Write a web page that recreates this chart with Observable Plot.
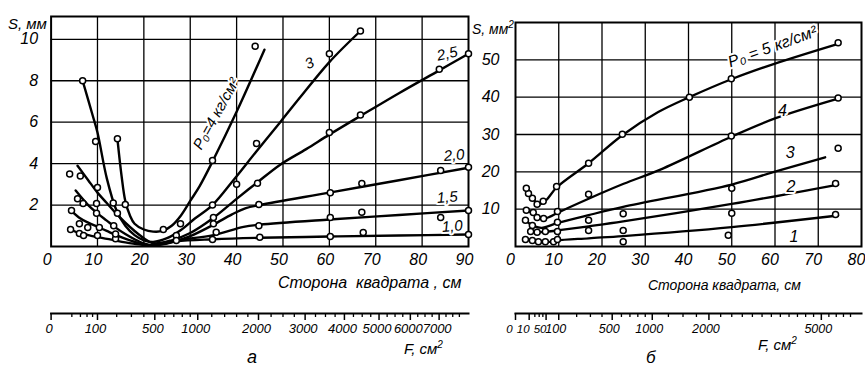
<!DOCTYPE html>
<html><head><meta charset="utf-8">
<script src="https://cdn.jsdelivr.net/npm/d3@7"></script>
<script src="https://cdn.jsdelivr.net/npm/@observablehq/plot@0.6"></script>
<style>
body{margin:0;background:#fff;}
#wrap{position:relative;width:865px;height:368px;overflow:hidden;background:#fff;
  font-family:"Liberation Sans",Arial,sans-serif;font-style:italic;color:#000;}
#wrap svg{position:absolute;overflow:visible;}
#wrap svg text{font-style:italic;}
.t{position:absolute;white-space:nowrap;line-height:1;font-style:italic;}
</style></head><body><div id="wrap"></div>
<script>
// ---------- Panel а : S (mm) vs side of square (cm) ----------
const ticksA_x = [0,10,20,30,40,50,60,70,80,90];
const ticksA_y = [2,4,6,8,10];
const seriesA = ["4","3","2,5","2,0","1,5","1,0"];

const sideA_p40 = [14.3,15.2,16,17,18,20,22,24,26,28,30,32,34.8,40,46];
const sA_p40    = [5.2,3.4,2.2,1.5,1.1,0.82,0.72,0.75,1.0,1.5,2.2,2.9,4.1,6.5,9.5];
const sideA_p30 = [6.8,9,10,12,14,16,18,20,22,25,28,31,34.8,39.3,44.3,49.4,53.7,60,66.7];
const sA_p30    = [8.0,6.3,5.5,3.3,1.8,1.0,0.55,0.3,0.22,0.4,0.8,1.35,2.0,3.2,4.6,6.0,7.2,8.9,10.4];
const sideA_p25 = [5.7,8,10,12,14,16,18,20,22,26,30,34.8,40,44.5,49.4,55,60,66.7,75,83.7,90];
const sA_p25    = [3.9,3.2,2.6,2.1,1.6,1.15,0.75,0.4,0.15,0.3,0.65,1.35,2.3,3.1,3.95,4.7,5.4,6.3,7.4,8.5,9.3];
const sideA_p20 = [5.3,8,10,12,14,16,18,20,22,26,30,35,39,42,45,60,75,90];
const sA_p20    = [2.7,2.0,1.6,1.25,0.9,0.6,0.35,0.15,0.05,0.2,0.5,1.05,1.55,1.85,2.0,2.6,3.2,3.8];
const sideA_p15 = [4.0,6,8,10,12,14,17,20,22,27,35,41.5,45,60,75,90];
const sA_p15    = [1.8,1.4,1.15,0.95,0.75,0.55,0.3,0.1,0.05,0.3,0.55,0.95,1.05,1.3,1.52,1.74];
const sideA_p10 = [4.2,6,8,10,13,16,19,22,27,35,45,60,75,90];
const sA_p10    = [0.82,0.65,0.55,0.45,0.33,0.2,0.1,0.05,0.25,0.35,0.42,0.48,0.53,0.58];

// measured points (circles)
const obsA_side = [6.8,9.6,14.3,44.0,34.8,66.7,60,44.3,40,44.5,60,66.7,83.7,90,34.8,35,35,35.6,34.8,44.8,44.8,45,60.2,60.2,60.2,67,67,67.3,84,90,84,90,90,24.2,27.9,27,27,4.0,6.3,10,5.7,6.9,9.8,13.4,16,4.4,6.1,7.9,9.8,10.4,13.5,14.3,4.2,6.1,7,10,13.9,13.9];
const obsA_s    = [8.0,5.07,5.2,9.66,4.15,10.4,9.3,4.97,3.0,3.05,5.5,6.35,8.55,9.3,2.0,1.4,1.1,0.69,0.34,2.03,1.0,0.45,2.6,1.4,0.48,3.04,1.65,0.67,3.67,3.82,1.4,1.74,0.58,0.82,1.1,0.53,0.29,3.5,3.4,2.85,2.3,2.07,2.07,2.1,2.03,1.74,1.1,0.92,1.6,0.92,1.0,1.6,0.82,0.63,0.53,0.53,0.38,0.6];

const labA_text = ["P₀=4 кг/см²","3","2,5","2,0","1,5","1,0"];
const labA_side = [35.6,55.7,85.4,86.9,85.4,86.5];
const labA_s    = [6.4,8.84,9.3,4.4,2.37,0.97];
const labA_rot  = [-61,-25,-12,-5,-5,-5];

const ticksA_F = [0,100,500,1000,2000,3000,4000,5000,6000,7000];
const minorA_F = [20,40,60,80,200,300,400,600,700,800,900,1200,1400,1600,1800,2250,2500,2750,3250,3500,3750,4250,4500,4750,5250,5500,5750,6250,6500,6750,7250,7500,7750];

// ---------- Panel б : S (mm²) vs side of square (cm) ----------
const ticksB_x = [0,10,20,30,40,50,60,70,80];
const ticksB_y = [10,20,30,40,50];
const seriesB = ["5","4","3","2","1"];
const sideB_p5 = [2.5,3.9,5.5,7,9.5,16.9,24.7,33,40.2,49.9,60,74.6];
const sB_p5    = [15.6,12.9,11.3,12.3,15.8,22.3,29.8,36,40,44.8,49,54.3];
const sideB_p4 = [2.5,4.5,6.5,8,9.7,16.9,25,33.5,49.9,60,74.6];
const sB_p4    = [9.7,8.6,7.5,8.0,9.0,12.8,16.8,20.6,29.4,34.3,39.6];
const sideB_p3 = [2.3,4,6,9.7,16.9,24.9,50,59.6,71.6];
const sB_p3    = [7.0,5.6,5.0,6.3,8.4,10.6,16.6,19.9,23.9];
const sideB_p2 = [3.5,5,6.9,9.7,16.9,24.9,50,74.6];
const sB_p2    = [4.0,3.8,3.9,4.3,5.4,6.7,11.4,16.6];
const sideB_p1 = [2.3,5.3,8.8,9.7,16.9,24.9,50,74.6];
const sB_p1    = [1.9,1.4,1.3,1.6,2.2,2.8,5.2,8.3];

const obsB_side = [74.6,49.9,40.2,24.7,16.9,9.5,6.4,5.0,3.9,3.0,2.5,2.5,4.1,5.0,6.5,9.7,2.3,3.9,9.7,3.5,5,6.9,9.7,2.3,3.9,5.3,6.9,8.8,9.7,16.9,16.9,16.9,24.9,24.9,24.9,50,50,49.2,74,74,74.6,49.9,74.6];
const obsB_s    = [54.6,44.9,40,30.1,22.3,16.1,12.1,11.3,12.9,14.2,15.6,9.7,9.1,7.8,7.5,9.4,7.0,5.6,6.5,4.0,3.8,4.0,4.0,1.9,1.6,1.3,1.3,1.3,1.9,14.0,7.0,4.3,8.8,4.3,1.3,15.6,8.9,3.0,16.9,8.6,39.8,29.6,26.3];

const labB_text = ["P₀ = 5 кг/см²","4","3","2","1"];
const labB_side = [59.4,61.7,63.5,63.7,64.4];
const labB_s    = [53.5,36.3,25,16.1,2.7];
const labB_rot  = [-20,0,0,0,0];

const ticksB_F = [0,10,50,100,500,1000,2000,5000];
const minorB_F = [20,30,40,200,300,400,600,700,800,900,1250,1500,1750,2250,2500,2750,3000,3250,3500,3750,4000,4250,4500,4750,5250,5500,5750,6000];

// ---------- helpers ----------
const FONT = '"Liberation Sans",Arial,sans-serif';
const wrap = document.getElementById("wrap");
const zip = (xs, ys, s) => xs.map((x, i) => ({x, y: ys[i], s}));
const fmt = d => String(d);
function put(el, left, top) { el.style.left = left + "px"; el.style.top = top + "px"; wrap.appendChild(el); }
function txt(html, left, top, size, extra) {
  const d = document.createElement("div"); d.className = "t"; d.innerHTML = html;
  d.style.fontSize = size + "px"; if (extra) Object.assign(d.style, extra);
  put(d, left, top);
}
const baseStyle = {background: "transparent", fontFamily: FONT, fontStyle: "italic", fontSize: "15px", color: "#000", overflow: "visible"};
const gridStyle = {stroke: "#000", strokeOpacity: 1, strokeWidth: 1.3};
const lineStyle = {x: "x", y: "y", z: "s", curve: "catmull-rom", stroke: "#000", strokeWidth: 2.4};
const dotStyle = {x: "x", y: "y", r: 3, fill: "#fff", stroke: "#000", strokeWidth: 1.5};

// ---------- Panel а main ----------
const linesA = [
  ...zip(sideA_p40, sA_p40, seriesA[0]), ...zip(sideA_p30, sA_p30, seriesA[1]),
  ...zip(sideA_p25, sA_p25, seriesA[2]), ...zip(sideA_p20, sA_p20, seriesA[3]),
  ...zip(sideA_p15, sA_p15, seriesA[4]), ...zip(sideA_p10, sA_p10, seriesA[5])];
const labelsA = labA_text.map((t, i) => ({t, x: labA_side[i], y: labA_s[i], r: labA_rot[i]}));
const plotA = Plot.plot({
  width: 480, height: 300, marginLeft: 50.6, marginRight: 12, marginTop: 16, marginBottom: 54,
  x: {domain: [0, 90]}, y: {domain: [0, 11.1]}, style: baseStyle,
  marks: [
    Plot.gridX(ticksA_x.slice(1, -1), gridStyle),
    Plot.gridY(ticksA_y, gridStyle),
    Plot.frame({stroke: "#000", strokeWidth: 2}),
    Plot.axisX(ticksA_x, {tickSize: 0, tickPadding: 7, label: null, fontSize: 16, fontStyle: "italic", dx: -4, tickFormat: fmt}),
    Plot.axisY(ticksA_y, {tickSize: 0, tickPadding: 13, label: null, fontSize: 16, fontStyle: "italic", tickFormat: fmt}),
    Plot.line(linesA, lineStyle),
    Plot.dot(zip(obsA_side, obsA_s, "o"), dotStyle),
    ...labelsA.map(l => Plot.text([l], {x: "x", y: "y", text: "t", rotate: l.r, fontSize: 15, fontStyle: "italic", fill: "#000", stroke: "#fff", strokeWidth: 4}))
  ]
});
put(plotA, 0, 0);

// ---------- Panel а F ruler ----------
const rulerA = Plot.plot({
  width: 480, height: 60, marginLeft: 50.6, marginRight: 12, marginTop: 0, marginBottom: 50,
  x: {type: "sqrt", domain: [0, 8100]}, style: baseStyle,
  marks: [
    Plot.frame({anchor: "bottom", stroke: "#000", strokeWidth: 2}),
    Plot.axisX(minorA_F, {anchor: "bottom", tickSize: 4, tickFormat: () => "", strokeWidth: 1.3}),
    Plot.axisX(ticksA_F, {anchor: "bottom", tickSize: 7, tickFormat: () => "", strokeWidth: 1.5}),
    Plot.text(ticksA_F, {x: d => d, text: fmt, frameAnchor: "bottom", dy: 19, dx: -2, fontSize: 13, fontStyle: "italic", fill: "#000", letterSpacing: "-0.6px"})
  ]
});
put(rulerA, 0, 303);

// ---------- Panel б main ----------
const linesB = [
  ...zip(sideB_p5, sB_p5, seriesB[0]), ...zip(sideB_p4, sB_p4, seriesB[1]),
  ...zip(sideB_p3, sB_p3, seriesB[2]), ...zip(sideB_p2, sB_p2, seriesB[3]),
  ...zip(sideB_p1, sB_p1, seriesB[4])];
const labelsB = labB_text.map((t, i) => ({t, x: labB_side[i], y: labB_s[i], r: labB_rot[i]}));
const plotB = Plot.plot({
  width: 395, height: 300, marginLeft: 45, marginRight: 4, marginTop: 22, marginBottom: 54,
  x: {domain: [0, 80]}, y: {domain: [0, 60]}, style: baseStyle,
  marks: [
    Plot.gridX(ticksB_x.slice(1, -1), gridStyle),
    Plot.gridY(ticksB_y, gridStyle),
    Plot.frame({stroke: "#000", strokeWidth: 2}),
    Plot.axisX(ticksB_x, {tickSize: 0, tickPadding: 7, label: null, fontSize: 16, fontStyle: "italic", dx: -5, tickFormat: fmt}),
    Plot.axisY(ticksB_y, {tickSize: 0, tickPadding: 16, label: null, fontSize: 16, fontStyle: "italic", tickFormat: fmt}),
    Plot.line(linesB, {...lineStyle, strokeWidth: 2.3}),
    Plot.dot(zip(obsB_side, obsB_s, "o"), dotStyle),
    ...labelsB.map(l => Plot.text([l], {x: "x", y: "y", text: "t", rotate: l.r, fontSize: 16, fontStyle: "italic", fill: "#000", stroke: "#fff", strokeWidth: 4}))
  ]
});
put(plotB, 470, 0);

// ---------- Panel б F ruler ----------
const smallB_F = ticksB_F.filter(d => d < 100);
const bigB_F = ticksB_F.filter(d => d >= 100);
const rulerB = Plot.plot({
  width: 395, height: 60, marginLeft: 45, marginRight: 4, marginTop: 0, marginBottom: 50,
  x: {type: "sqrt", domain: [0, 6400]}, style: baseStyle,
  marks: [
    Plot.frame({anchor: "bottom", stroke: "#000", strokeWidth: 2}),
    Plot.axisX(minorB_F, {anchor: "bottom", tickSize: 4, tickFormat: () => "", strokeWidth: 1.3}),
    Plot.axisX(ticksB_F, {anchor: "bottom", tickSize: 7, tickFormat: () => "", strokeWidth: 1.5}),
    Plot.text(smallB_F, {x: d => d, text: fmt, frameAnchor: "bottom", dy: 19, dx: -6, fontSize: 11.5, fontStyle: "italic", fill: "#000", letterSpacing: "-0.8px"}),
    Plot.text(bigB_F, {x: d => d, text: fmt, frameAnchor: "bottom", dy: 19, dx: -3, fontSize: 12.5, fontStyle: "italic", fill: "#000", letterSpacing: "-0.6px"})
  ]
});
put(rulerB, 470, 303);

// ---------- titles ----------
txt("S, мм", 8, 16, 15);
txt("Сторона&nbsp;&nbsp;квадрата , см", 278, 275, 16);
txt("а", 247, 348, 18);
txt("F, см<sup style='font-size:10px'>2</sup>", 404, 340, 15);
txt("S, мм<sup style='font-size:10px'>2</sup>", 472, 20, 14);
txt("Сторона&nbsp;квадрата, см", 648, 278, 14);
txt("б", 646, 349, 17);
txt("F, см<sup style='font-size:10px'>2</sup>", 758, 336, 15);
</script></body></html>
